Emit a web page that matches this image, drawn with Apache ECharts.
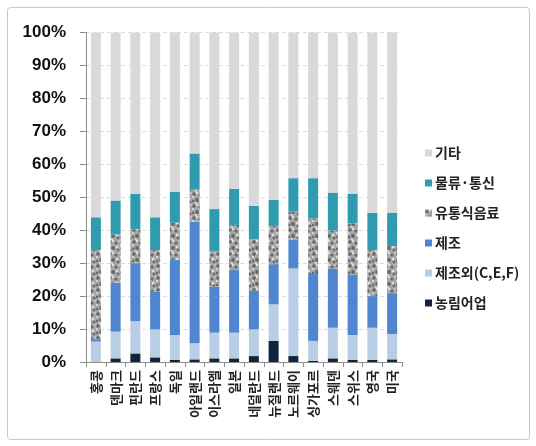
<!DOCTYPE html>
<html>
<head>
<meta charset="utf-8">
<script src="https://cdn.jsdelivr.net/npm/echarts@6/dist/echarts.min.js"></script>
<style>
html,body{margin:0;padding:0;background:#fff;}
#chart{width:536px;height:446px;}
</style>
</head>
<body>
<div id="chart"></div>
<script>
var categories = ['홍콩','덴마크','핀란드','프랑스','독일','아일랜드','이스라엘','일본','네덜란드','뉴질랜드','노르웨이','싱가포르','스웨덴','스위스','영국','미국'];
var agri    = [0, 1.1, 2.6, 1.4, 0.6, 0.8, 1.1, 1.1, 1.8, 6.4, 1.8, 0.3, 1.1, 0.6, 0.6, 0.8];
var nonMfg  = [6.2, 8.1, 9.8, 8.5, 7.6, 4.9, 7.8, 7.8, 8.1, 11.1, 26.6, 6.1, 9.3, 7.6, 9.8, 7.7];
var mfg     = [0.7, 14.9, 17.6, 11.4, 22.8, 36.9, 14.0, 19.0, 11.7, 12.2, 8.8, 20.3, 18.0, 18.4, 9.6, 12.4];
var retail  = [27.1, 14.6, 10.3, 12.7, 11.3, 9.8, 10.8, 13.7, 15.6, 11.6, 8.4, 16.9, 11.5, 15.5, 14.0, 14.3];
var logistics = [9.9, 10.3, 10.7, 9.9, 9.4, 10.9, 12.7, 10.9, 10.2, 7.9, 10.2, 12.2, 11.5, 8.9, 11.3, 10.1];
var others  = [56.1, 51.0, 49.0, 56.1, 48.3, 36.7, 53.6, 47.5, 52.6, 50.8, 44.2, 44.2, 48.6, 49.0, 54.7, 54.7];
var seriesNames = ['농림어업','제조외(C,E,F)','제조','유통식음료','물류·통신','기타'];

// stone-like texture for 유통식음료
function makePattern(){
  var c = document.createElement('canvas');
  c.width = 12; c.height = 12;
  var g = c.getContext('2d');
  g.fillStyle = '#a6a6a6'; g.fillRect(0,0,12,12);
  var dark = [[2,2,1.7],[8,3,1.5],[5,8,1.9],[10,10,1.3],[1,9,1.2]];
  var light = [[5,1,1.2],[1,5,1.0],[9,7,1.3],[4,11,1.0],[11,1,0.8]];
  g.fillStyle = '#666666';
  dark.forEach(function(d){g.beginPath();g.arc(d[0],d[1],d[2],0,Math.PI*2);g.fill();});
  g.fillStyle = '#e0e0e0';
  light.forEach(function(d){g.beginPath();g.arc(d[0],d[1],d[2],0,Math.PI*2);g.fill();});
  return c;
}
var pattern = {image: makePattern(), repeat: 'repeat'};

var colors = ['#10243f', '#b9cde5', '#4f86cf', pattern, '#2f9bae', '#d9d9d9'];
var dataSets = [agri, nonMfg, mfg, retail, logistics, others];

var chart = echarts.init(document.getElementById('chart'), null, {renderer: 'canvas'});
var series = seriesNames.map(function(n, i){
  return {
    name: n, type: 'bar', stack: 'total', barWidth: 10,
    itemStyle: {color: colors[i]},
    data: dataSets[i]
  };
});
chart.setOption({
  animation: false,
  backgroundColor: '#fff',
  graphic: [{
    type: 'rect', shape: {x: 7.5, y: 7.5, width: 522, height: 432, r: 3},
    style: {fill: 'none', stroke: '#c8c8c8', lineWidth: 1}, silent: true, z: -1
  }],
  legend: {
    orient: 'vertical', left: 420, top: 141,
    itemWidth: 7, itemHeight: 7, itemGap: 16,
    data: ['기타','물류·통신','유통식음료','제조','제조외(C,E,F)','농림어업'],
    textStyle: {fontFamily: 'Noto Sans CJK KR', fontWeight: 'bold', fontSize: 14, color: '#222', padding: [0,0,0,-2]},
    icon: 'rect'
  },
  grid: {left: 86, right: 134, top: 32.5, bottom: 84, containLabel: false},
  xAxis: {
    type: 'category', data: categories,
    axisLine: {lineStyle: {color: '#8c8c8c'}},
    axisTick: {show: true, alignWithLabel: false, length: 5, lineStyle: {color: '#8c8c8c'}},
    axisLabel: {rotate: 90, interval: 0, margin: 8, fontFamily: 'Noto Sans CJK KR', fontWeight: 'bold', fontSize: 13, color: '#222'}
  },
  yAxis: {
    type: 'value', min: 0, max: 100, interval: 10,
    axisLine: {show: true, lineStyle: {color: '#8c8c8c'}},
    axisTick: {show: true, length: 6, lineStyle: {color: '#8c8c8c'}},
    axisLabel: {formatter: '{value}%', margin: 20, fontFamily: 'Liberation Sans', fontWeight: 'bold', fontSize: 17, color: '#111'},
    splitLine: {show: true, lineStyle: {color: '#dcdcdc', type: [4,3]}}
  },
  series: series
});
</script>
</body>
</html>
